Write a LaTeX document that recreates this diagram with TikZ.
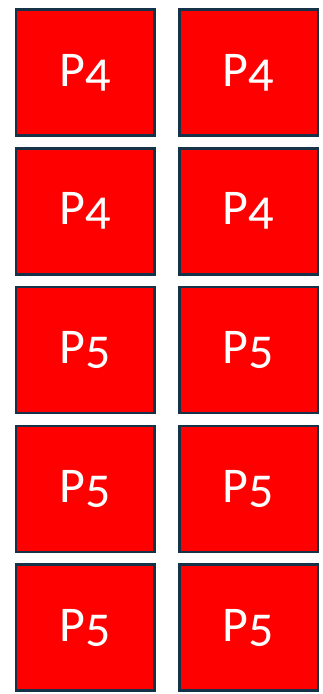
\documentclass[tikz,border=0pt]{standalone}
\usepackage{fontspec}
\setmainfont{Carlito}[Numbers=OldStyle]
\definecolor{cellred}{RGB}{255,0,0}
\definecolor{cellrim}{RGB}{22,50,72}
\tikzset{
  cell/.style={draw=cellrim, fill=cellred, line width=2.5pt,
    minimum width=138.5pt, minimum height=126pt, inner sep=0pt,
    text=white, font=\fontsize{50}{50}\selectfont},
}
\begin{document}
\begin{tikzpicture}[x=1pt,y=-1pt]
\useasboundingbox (0,0) rectangle (322,694);
\node[cell] (a1) at (85,72.5) {P4};
\node[cell] (b1) at (248.5,72.5) {P4};
\node[cell] (a2) at (85,211.3) {P4};
\node[cell] (b2) at (248.5,211.3) {P4};
\node[cell] (a3) at (85,350) {P5};
\node[cell] (b3) at (248.5,350) {P5};
\node[cell] (a4) at (85,488.8) {P5};
\node[cell] (b4) at (248.5,488.8) {P5};
\node[cell] (a5) at (85,627.5) {P5};
\node[cell] (b5) at (248.5,627.5) {P5};
\end{tikzpicture}
\end{document}
